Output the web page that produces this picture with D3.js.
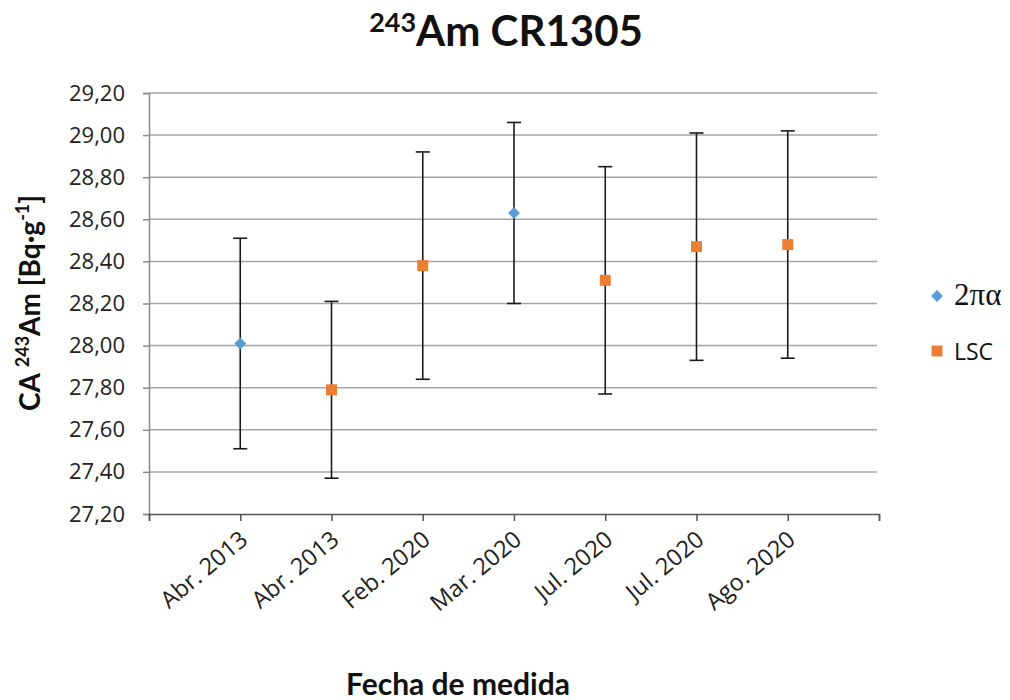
<!DOCTYPE html>
<html>
<head>
<meta charset="utf-8">
<script src="https://cdn.jsdelivr.net/npm/d3@7"></script>
<style>
  html, body { margin: 0; padding: 0; background: #fff; }
  svg { display: block; }
</style>
</head>
<body>
<svg id="chart" width="1010" height="700"></svg>
<script>
// Measurement dates (category axis)
const categories = ["Abr. 2013", "Abr. 2013", "Feb. 2020", "Mar. 2020", "Jul. 2020", "Jul. 2020", "Ago. 2020"];
// Method used for each measurement
const methods = ["2πα", "LSC", "LSC", "2πα", "LSC", "LSC", "LSC"];
// Activity concentration values [Bq·g-1]
const values = [28.01, 27.79, 28.38, 28.63, 28.31, 28.47, 28.48];
// Uncertainty (half-width of each error bar)
const errors = [0.50, 0.42, 0.54, 0.43, 0.54, 0.54, 0.54];
// Y-axis tick values
const yTicks = [27.2, 27.4, 27.6, 27.8, 28.0, 28.2, 28.4, 28.6, 28.8, 29.0, 29.2];
// Legend entries
const seriesNames = ["2πα", "LSC"];

const colors = { "2πα": "#5B9BD5", "LSC": "#ED7D31" };
const fontMain = "Lato, 'Open Sans', sans-serif";
const fontTicks = "'Open Sans', Lato, sans-serif";

const svg = d3.select("#chart");
const m = { left: 149, right: 879, top: 93, bottom: 514 };

// Points sit at positions 1..n on a 0..n+1 value axis
const x = d3.scaleLinear().domain([0, categories.length + 1]).range([m.left, m.right]);
const y = d3.scaleLinear().domain([27.2, 29.2]).range([m.bottom, m.top]);

const fmt = v => d3.format(".2f")(v).replace(".", ",");

// Horizontal gridlines
svg.append("g")
  .selectAll("line")
  .data(yTicks.slice(1))
  .join("line")
  .attr("x1", m.left).attr("x2", m.right - 2)
  .attr("y1", d => y(d)).attr("y2", d => y(d))
  .attr("stroke", "#a6a6a6").attr("stroke-width", 1.5);

// Y axis
const yAxis = svg.append("g")
  .attr("transform", `translate(${m.left},0)`)
  .call(d3.axisLeft(y).tickValues(yTicks).tickFormat(fmt).tickSize(6).tickPadding(18));
yAxis.select(".domain").attr("stroke", "#8c8c8c").attr("stroke-width", 1.5);
yAxis.selectAll(".tick line").attr("stroke", "#8c8c8c").attr("stroke-width", 1.5);
yAxis.selectAll(".tick text")
  .attr("font-family", fontTicks).attr("font-size", 22).attr("fill", "#222");

// X axis with ticks at every slot boundary
const xTickVals = d3.range(0, categories.length + 2);
const xAxis = svg.append("g")
  .attr("transform", `translate(0,${m.bottom})`)
  .call(d3.axisBottom(x).tickValues(xTickVals).tickSize(7).tickFormat(""));
xAxis.select(".domain").attr("stroke", "#555").attr("stroke-width", 1.5);
xAxis.selectAll(".tick line").attr("stroke", "#555").attr("stroke-width", 1.5);

// Rotated category labels
svg.append("g")
  .selectAll("text")
  .data(categories)
  .join("text")
  .attr("transform", (d, i) => `translate(${x(i + 1) + 9},${m.bottom + 28}) rotate(-40)`)
  .attr("text-anchor", "end")
  .attr("font-family", fontTicks)
  .attr("font-size", 23.5)
  .attr("fill", "#222")
  .text(d => d);

const data = values.map((v, i) => ({ i, v, e: errors[i], m: methods[i] }));

// Error bars
const eb = svg.append("g").attr("stroke", "#1a1a1a").attr("stroke-width", 1.6);
eb.selectAll("line.v").data(data).join("line").attr("class", "v")
  .attr("x1", d => x(d.i + 1)).attr("x2", d => x(d.i + 1))
  .attr("y1", d => y(d.v + d.e)).attr("y2", d => y(d.v - d.e));
eb.selectAll("line.t").data(data).join("line").attr("class", "t")
  .attr("x1", d => x(d.i + 1) - 7).attr("x2", d => x(d.i + 1) + 7)
  .attr("y1", d => y(d.v + d.e)).attr("y2", d => y(d.v + d.e));
eb.selectAll("line.b").data(data).join("line").attr("class", "b")
  .attr("x1", d => x(d.i + 1) - 7).attr("x2", d => x(d.i + 1) + 7)
  .attr("y1", d => y(d.v - d.e)).attr("y2", d => y(d.v - d.e));

// Markers: diamonds for 2πα, squares for LSC
const sym = name => name === "2πα" ? d3.symbol(d3.symbolDiamond2, 90)() : d3.symbol(d3.symbolSquare, 120)();
svg.append("g")
  .selectAll("path")
  .data(data)
  .join("path")
  .attr("transform", d => `translate(${x(d.i + 1)},${y(d.v)})`)
  .attr("d", d => sym(d.m))
  .attr("fill", d => colors[d.m]);

// Title
const title = svg.append("text")
  .attr("x", 506).attr("y", 46)
  .attr("text-anchor", "middle")
  .attr("font-family", fontMain)
  .attr("font-weight", "bold")
  .attr("font-size", 42)
  .attr("fill", "#111");
title.append("tspan").attr("font-size", 27).attr("dy", -14).text("243");
title.append("tspan").attr("dy", 14).text("Am CR1305");

// Y-axis title
const yt = svg.append("text")
  .attr("transform", "translate(40,303) rotate(-90)")
  .attr("text-anchor", "middle")
  .attr("font-family", fontMain)
  .attr("font-weight", "bold")
  .attr("font-size", 28)
  .attr("fill", "#111");
yt.append("tspan").text("CA ");
yt.append("tspan").attr("font-size", 18).attr("dy", -11).text("243");
yt.append("tspan").attr("dy", 11).text("Am [Bq·g");
yt.append("tspan").attr("font-size", 18).attr("dy", -11).text("-1");
yt.append("tspan").attr("dy", 11).text("]");

// X-axis title
svg.append("text")
  .attr("x", 458).attr("y", 695)
  .attr("text-anchor", "middle")
  .attr("font-family", fontMain)
  .attr("font-weight", "bold")
  .attr("font-size", 30)
  .attr("fill", "#111")
  .text("Fecha de medida");

// Legend
const legend = svg.append("g");
seriesNames.forEach((name, k) => {
  const ly = 296 + k * 55;
  legend.append("path")
    .attr("transform", `translate(937,${ly})`)
    .attr("d", sym(name))
    .attr("fill", colors[name]);
  legend.append("text")
    .attr("x", 954).attr("y", ly + 9)
    .attr("font-family", name === "2πα" ? "'Liberation Serif', 'DejaVu Serif', serif" : fontTicks)
    .attr("font-size", name === "2πα" ? 31 : 23)
    .attr("fill", "#111")
    .text(name);
});
</script>
</body>
</html>
